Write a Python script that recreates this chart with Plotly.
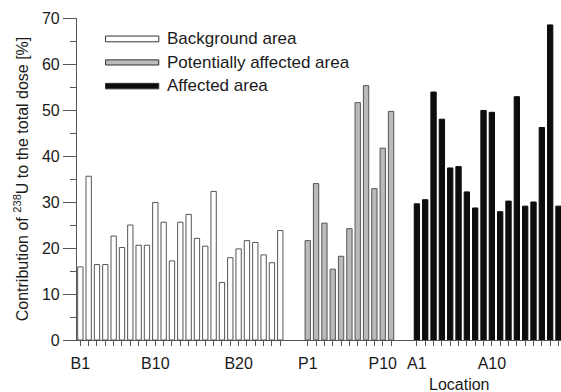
import plotly.graph_objects as go

# ---- data ----
background_labels = [f"B{i}" for i in range(1, 26)]
background_vals = [15.9, 35.6, 16.4, 16.4, 22.6, 20.1, 25.0, 20.6, 20.6, 29.9,
                   25.6, 17.2, 25.6, 27.3, 22.1, 20.4, 32.3, 12.5, 17.9, 19.8,
                   21.6, 21.2, 18.5, 16.8, 23.8]
potential_labels = [f"P{i}" for i in range(1, 12)]
potential_vals = [21.6, 34.0, 25.4, 15.4, 18.2, 24.2, 51.6, 55.3, 32.9, 41.7, 49.7]
affected_labels = [f"A{i}" for i in range(1, 19)]
affected_vals = [29.6, 30.5, 53.9, 48.0, 37.4, 37.7, 32.2, 28.7, 49.9, 49.5,
                 27.9, 30.2, 52.9, 29.1, 30.0, 46.2, 68.5, 29.1]
shown_labels = ["B1", "B10", "B20", "P1", "P10", "A1", "A10"]

# ---- positions along the location axis (groups separated by gaps) ----
b_x = [i for i in range(len(background_vals))]
p_x = [27.3 + i for i in range(len(potential_vals))]
a_x = [40.4 + i for i in range(len(affected_vals))]
all_labels = background_labels + potential_labels + affected_labels
all_x = b_x + p_x + a_x
pos = dict(zip(all_labels, all_x))

long_ticks = [pos[l] for l in all_labels if int(l[1:]) % 5 == 0]
label_x = [pos[l] for l in shown_labels]

FONT = "Liberation Sans, Arial, sans-serif"
TXT = "#1a1a1a"
LINE = "#555555"
BW = 0.64

fig = go.Figure()
fig.add_trace(go.Bar(x=b_x, y=background_vals, width=BW, name="Background area",
                     marker=dict(color="white", line=dict(color=LINE, width=1)),
                     hovertext=background_labels))
fig.add_trace(go.Bar(x=p_x, y=potential_vals, width=BW, name="Potentially affected area",
                     marker=dict(color="#bababa", line=dict(color=LINE, width=1)),
                     hovertext=potential_labels))
fig.add_trace(go.Bar(x=a_x, y=affected_vals, width=BW, name="Affected area",
                     marker=dict(color="#0d0d0d", line=dict(color="#0d0d0d", width=1)),
                     hovertext=affected_labels))

xr = [-0.4, 57.7]

# legend drawn as wide swatches (paper coordinates)
legend_items = [
    ("Background area", "white", 0.944, 0.926, 0.936),
    ("Potentially affected area", "#bababa", 0.870, 0.854, 0.863),
    ("Affected area", "#0d0d0d", 0.797, 0.780, 0.789),
]
shapes = []
annotations = []
for name, col, y0, y1, yt in legend_items:
    shapes.append(dict(type="rect", xref="paper", yref="paper",
                       x0=0.059, x1=0.169, y0=y1, y1=y0,
                       fillcolor=col, line=dict(color="#333333", width=1)))
    annotations.append(dict(text=name, xref="paper", yref="paper",
                            x=0.181, y=yt, xanchor="left", yanchor="middle",
                            showarrow=False, font=dict(family=FONT, size=17, color=TXT)))
annotations.append(dict(text="Location", xref="paper", yref="paper",
                        x=(459 - 77) / 484, y=-0.138, xanchor="center", yanchor="middle",
                        showarrow=False, font=dict(family=FONT, size=16, color=TXT)))

fig.update_layout(
    width=561, height=392,
    margin=dict(l=77, r=0, t=18, b=52),
    paper_bgcolor="white", plot_bgcolor="white",
    barmode="overlay",
    showlegend=False,
    font=dict(family=FONT, size=16, color=TXT),
    shapes=shapes,
    annotations=annotations,
    xaxis=dict(range=xr, tickmode="array", tickvals=label_x, ticktext=shown_labels,
               ticks="outside", ticklen=5, tickwidth=1, tickcolor=LINE,
               minor=dict(tickmode="array", tickvals=all_x, ticks="outside",
                          ticklen=5, tickwidth=1, tickcolor=LINE, showgrid=False),
               showline=True, linecolor=LINE, linewidth=1.2,
               showgrid=False, zeroline=False, ticklabelstandoff=4,
               tickfont=dict(family=FONT, size=16, color=TXT)),
    xaxis2=dict(range=xr, overlaying="x", anchor="y", side="bottom",
                tickmode="array", tickvals=long_ticks,
                ticks="outside", ticklen=13, tickwidth=1, tickcolor=LINE,
                showticklabels=False, showline=False, showgrid=False, zeroline=False),
    yaxis=dict(range=[0, 70], dtick=10, tick0=0, ticks="outside", ticklen=13,
               tickwidth=1, tickcolor=LINE,
               minor=dict(dtick=5, tick0=0, ticks="outside", ticklen=6, tickcolor=LINE),
               showline=True, linecolor=LINE, linewidth=1.2,
               showgrid=False, zeroline=False,
               tickfont=dict(family=FONT, size=16, color=TXT),
               title=dict(text="Contribution of <sup>238</sup>U to the total dose [%]",
                          font=dict(family=FONT, size=16, color=TXT), standoff=9)),
)

fig.write_html("out.html",
               config={"displayModeBar": False},
               post_script="document.body.style.margin='0';document.body.style.padding='0';")
